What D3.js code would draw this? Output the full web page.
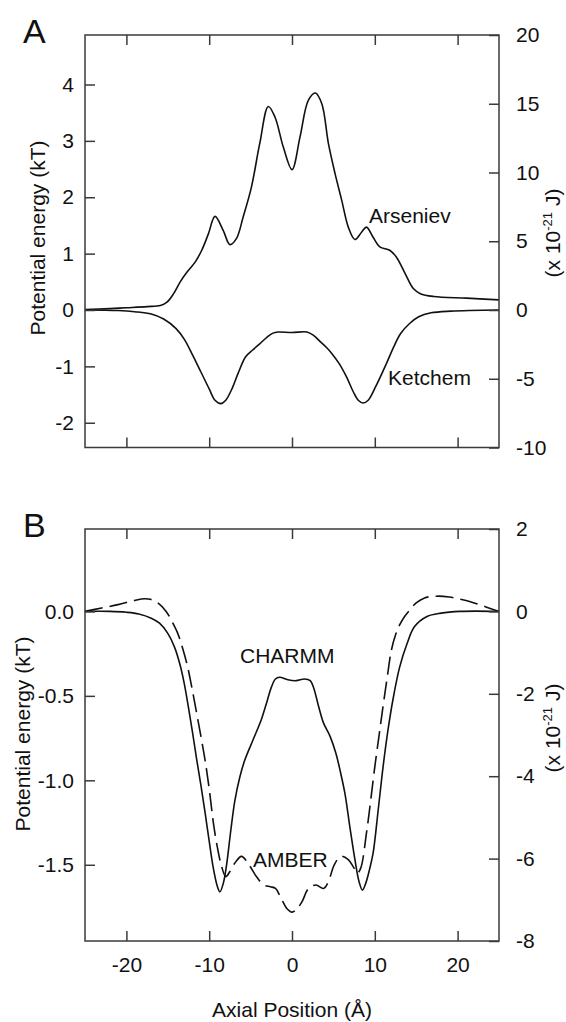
<!DOCTYPE html>
<html>
<head>
<meta charset="utf-8">
<script src="https://cdn.jsdelivr.net/npm/d3@7"></script>
<style>
  html, body { margin: 0; padding: 0; background: #fff; }
  svg { display: block; font-family: "Liberation Sans", Arial, sans-serif; }
</style>
</head>
<body>
<svg id="chart" width="566" height="1022"></svg>
<script>
// ---- Data: axial position (Å) and potential energy (kT) ----

// Panel A, Arseniev profile
const arsenievX  = [-25, -22, -20, -17.5, -15.9, -15.1, -14.3, -13.5, -12.7, -11.7, -10.9, -10.1, -9.3, -8.3, -7.5, -6.7, -5.9, -4.9, -3.9, -2.86, -2.05, -1.05, 0.0, 0.97, 1.97, 2.82, 3.6, 4.4, 5.2, 6.0, 6.8, 7.6, 8.4, 9.0, 9.8, 10.6, 11.8, 12.6, 13.65, 14.65, 15.5, 17.1, 21.1, 25];
const arsenievKT = [0.01, 0.025, 0.04, 0.06, 0.08, 0.14, 0.29, 0.50, 0.67, 0.85, 1.06, 1.35, 1.66, 1.41, 1.16, 1.27, 1.65, 2.18, 2.95, 3.61, 3.42, 2.89, 2.49, 3.07, 3.72, 3.85, 3.66, 2.95, 2.42, 1.95, 1.47, 1.25, 1.38, 1.47, 1.29, 1.12, 1.06, 0.94, 0.65, 0.38, 0.29, 0.24, 0.21, 0.18];

// Panel A, Ketchem profile
const ketchemX  = [-25, -21, -19, -17, -15.5, -14, -13, -12, -11, -10, -9.3, -8.6, -8.0, -7.2, -6.5, -5.6, -4.75, -3.9, -3.0, -2.3, -1.7, 0, 1.8, 2.6, 3.4, 4.2, 4.8, 5.7, 6.6, 7.4, 8.0, 8.6, 9.2, 10.1, 11.4, 12.3, 13.1, 14.2, 15.3, 16.8, 19.2, 25];
const ketchemKT = [0, -0.01, -0.03, -0.07, -0.16, -0.33, -0.52, -0.80, -1.10, -1.40, -1.60, -1.66, -1.60, -1.38, -1.12, -0.83, -0.71, -0.60, -0.48, -0.41, -0.39, -0.40, -0.39, -0.45, -0.56, -0.67, -0.77, -0.95, -1.19, -1.45, -1.60, -1.65, -1.60, -1.36, -0.95, -0.65, -0.42, -0.24, -0.12, -0.05, -0.02, 0];

// Panel B, CHARMM profile
const charmmX  = [-25, -22, -20, -18.5, -17, -16, -15, -14.2, -13.5, -13, -12.5, -12, -11.5, -11, -10.5, -10, -9.5, -9, -8.7, -8.3, -7.9, -7.4, -6.9, -6.3, -5.7, -4.7, -3.7, -3.0, -2.5, -2.0, -1.5, -0.5, 0.5, 1.5, 2.2, 2.6, 3.2, 3.8, 4.6, 5.3, 5.8, 6.4, 7.0, 7.6, 8.1, 8.5, 8.9, 9.4, 9.8, 10.4, 11.0, 11.6, 12.2, 13.0, 13.9, 14.8, 16.3, 18, 20.3, 25];
const charmmKT = [0, 0, -0.005, -0.015, -0.04, -0.07, -0.13, -0.21, -0.32, -0.43, -0.57, -0.72, -0.88, -1.03, -1.19, -1.36, -1.52, -1.63, -1.66, -1.61, -1.50, -1.30, -1.12, -0.98, -0.88, -0.76, -0.64, -0.53, -0.45, -0.40, -0.39, -0.405, -0.41, -0.40, -0.41, -0.45, -0.56, -0.66, -0.74, -0.84, -0.94, -1.08, -1.28, -1.47, -1.60, -1.65, -1.61, -1.52, -1.43, -1.18, -0.92, -0.70, -0.52, -0.33, -0.19, -0.09, -0.03, -0.01, 0, 0];

// Panel B, AMBER profile
const amberX  = [-25, -23, -21, -19, -17.8, -17, -16.2, -15.2, -14.5, -13.8, -13.2, -12.6, -12.1, -11.6, -11.0, -10.5, -10.0, -9.5, -9.0, -8.5, -8.0, -7.5, -6.9, -6.1, -5.2, -4.3, -3.4, -2.6, -2.0, -1.3, -0.6, 0.0, 0.6, 1.2, 2.0, 2.9, 3.8, 4.4, 5.1, 5.9, 6.8, 7.5, 7.9, 8.3, 9.0, 9.5, 10.0, 10.5, 11.0, 11.5, 12.0, 12.5, 13.0, 13.6, 14.25, 15, 16, 17.5, 19, 20.5, 22, 23.5, 25];
const amberKT = [0, 0.02, 0.04, 0.065, 0.075, 0.07, 0.05, 0.0, -0.06, -0.13, -0.22, -0.33, -0.45, -0.58, -0.74, -0.88, -1.05, -1.25, -1.40, -1.51, -1.57, -1.54, -1.49, -1.45, -1.50, -1.57, -1.62, -1.63, -1.64, -1.70, -1.76, -1.78, -1.76, -1.72, -1.64, -1.62, -1.64, -1.60, -1.50, -1.45, -1.47, -1.52, -1.55, -1.52, -1.31, -1.12, -0.92, -0.74, -0.56, -0.39, -0.23, -0.14, -0.08, -0.03, 0.01, 0.05, 0.08, 0.09, 0.085, 0.07, 0.05, 0.025, 0];

// Axis ticks
const xTicks = [-20, -10, 0, 10, 20];
const panelALeftTicks = [-2, -1, 0, 1, 2, 3, 4];
const panelARightTicks = [-10, -5, 0, 5, 10, 15, 20];
const panelBLeftTicks = [-1.5, -1.0, -0.5, 0.0];
const panelBRightTicks = [-8, -6, -4, -2, 0, 2];

// Right-hand axis domains, in units of 10^-21 J
const panelAJoules = [-10, 20];
const panelBJoules = [-8, 2];

// 1 kT ≈ 4.1 × 10^-21 J
const KT_TO_ZJ = 4.1;

// ---- Drawing ----
const svg = d3.select("#chart");
const FRAME = "#3a3a3a";
const INK = "#111";
const FONT = 21;

// Number formatting with a plain hyphen as the minus sign
const locale = d3.formatLocale({ decimal: ".", thousands: ",", grouping: [3], currency: ["", ""], minus: "-" });
const fmtInt = locale.format("d");
const fmtOne = locale.format(".1f");

const x = d3.scaleLinear().domain([-25, 25]).range([85, 499]);

const line = (xs, ys, yScale) => d3.line()
  .x(i => x(xs[i]))
  .y(i => yScale(ys[i]))
  .curve(d3.curveCatmullRom.alpha(0.5))(d3.range(xs.length));

function styleAxis(g) {
  g.select(".domain").remove();
  g.selectAll(".tick line").attr("stroke", FRAME).attr("stroke-width", 1.5);
  g.selectAll(".tick text").attr("fill", INK).attr("font-size", FONT)
    .attr("font-family", "Liberation Sans, Arial, sans-serif");
}

function drawPanel(p) {
  const yJ = d3.scaleLinear().domain(p.joules).range([p.bottom, p.top]);
  const yKT = d3.scaleLinear()
    .domain([p.joules[0] / KT_TO_ZJ, p.joules[1] / KT_TO_ZJ])
    .range([p.bottom, p.top]);

  const g = svg.append("g");

  // Curves
  p.series.forEach(s => {
    g.append("path")
      .attr("d", line(s.x, s.y, yKT))
      .attr("fill", "none")
      .attr("stroke", INK)
      .attr("stroke-width", 1.6)
      .attr("stroke-linejoin", "round")
      .attr("stroke-dasharray", s.dash || null);
  });

  // Axes: ticks point inward on all four sides
  g.append("g").attr("transform", `translate(85,0)`)
    .call(d3.axisLeft(yKT).tickValues(p.leftTicks).tickFormat(p.leftFormat)
      .tickSize(-10).tickPadding(11))
    .call(styleAxis);
  g.append("g").attr("transform", `translate(499,0)`)
    .call(d3.axisRight(yJ).tickValues(p.rightTicks).tickFormat(fmtInt)
      .tickSize(-10).tickPadding(17))
    .call(styleAxis);
  g.append("g").attr("transform", `translate(0,${p.top})`)
    .call(d3.axisTop(x).tickValues(xTicks).tickFormat("").tickSize(-10))
    .call(styleAxis);
  g.append("g").attr("transform", `translate(0,${p.bottom})`)
    .call(d3.axisBottom(x).tickValues(xTicks)
      .tickFormat(p.xLabels ? fmtInt : "")
      .tickSize(-10).tickPadding(16))
    .call(styleAxis);

  // Frame
  g.append("rect")
    .attr("x", 85).attr("y", p.top)
    .attr("width", 499 - 85).attr("height", p.bottom - p.top)
    .attr("fill", "none").attr("stroke", FRAME).attr("stroke-width", 1.5);

  // Panel letter
  g.append("text").attr("x", 23).attr("y", p.top + 8)
    .attr("font-size", 34).attr("fill", INK).text(p.letter);

  // Left axis title
  g.append("text")
    .attr("transform", `translate(${p.titleX},${p.titleMid}) rotate(-90)`)
    .attr("text-anchor", "middle").attr("font-size", FONT).attr("fill", INK)
    .text("Potential energy (kT)");

  // Right axis title with superscript exponent
  const rt = g.append("text")
    .attr("transform", `translate(560,${p.rightTitleMid}) rotate(-90)`)
    .attr("text-anchor", "middle").attr("font-size", FONT).attr("fill", INK);
  rt.append("tspan").text("(x 10");
  rt.append("tspan").attr("font-size", 13).attr("dy", -8).text("-21");
  rt.append("tspan").attr("dy", 8).text(" J)");

  // Curve labels
  p.labels.forEach(l => {
    g.append("text").attr("x", l.x).attr("y", l.y)
      .attr("font-size", FONT).attr("fill", INK).text(l.text);
  });
}

drawPanel({
  letter: "A", top: 35, bottom: 447.5, joules: panelAJoules,
  leftTicks: panelALeftTicks, leftFormat: fmtInt,
  rightTicks: panelARightTicks, xLabels: false,
  titleX: 45, titleMid: 238, rightTitleMid: 233,
  series: [
    { x: arsenievX, y: arsenievKT },
    { x: ketchemX, y: ketchemKT }
  ],
  labels: [
    { text: "Arseniev", x: 369, y: 223 },
    { text: "Ketchem", x: 388, y: 385 }
  ]
});

drawPanel({
  letter: "B", top: 529, bottom: 941, joules: panelBJoules,
  leftTicks: panelBLeftTicks, leftFormat: fmtOne,
  rightTicks: panelBRightTicks, xLabels: true,
  titleX: 30, titleMid: 734, rightTitleMid: 728,
  series: [
    { x: charmmX, y: charmmKT },
    { x: amberX, y: amberKT, dash: "18,7" }
  ],
  labels: [
    { text: "CHARMM", x: 240, y: 663 },
    { text: "AMBER", x: 253, y: 867 }
  ]
});

// Shared x-axis title
svg.append("text")
  .attr("x", 292).attr("y", 1017)
  .attr("text-anchor", "middle").attr("font-size", FONT).attr("fill", INK)
  .text("Axial Position (Å)");
</script>
</body>
</html>
